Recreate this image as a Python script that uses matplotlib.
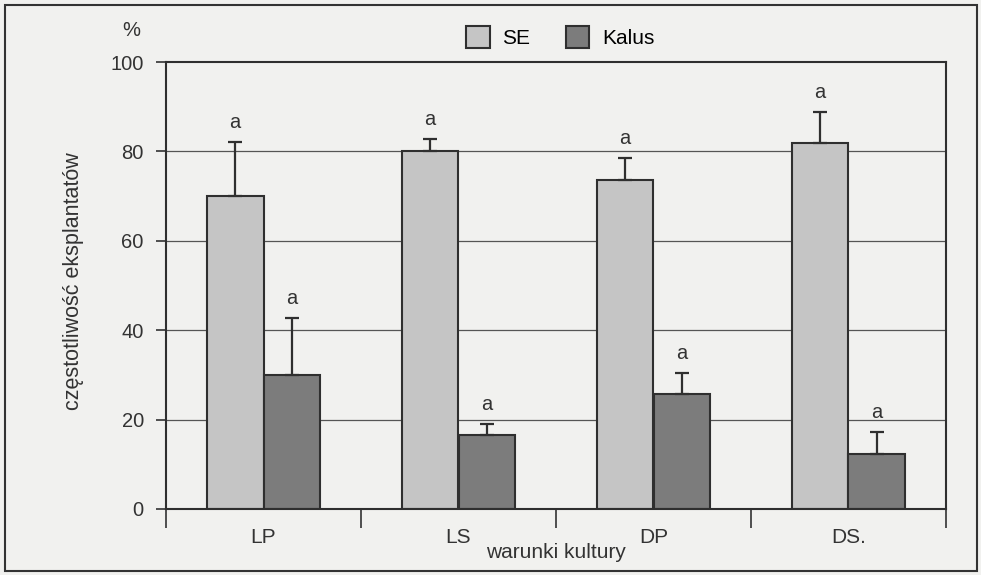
import matplotlib.pyplot as plt
import matplotlib.patches as patches
import numpy as np

# donnees
kategorie = ['LP', 'LS', 'DP', 'DS.']
se = [70.0, 80.1, 73.6, 81.9]
se_blad = [12.1, 2.7, 4.9, 6.9]
kalus = [30.0, 16.6, 25.7, 12.3]
kalus_blad = [12.7, 2.4, 4.7, 4.9]
litery_se = ['a', 'a', 'a', 'a']
litery_kalus = ['a', 'a', 'a', 'a']

plt.rcParams['font.family'] = ['Liberation Sans', 'DejaVu Sans']
tlo = '#f1f1ef'
tekst = '#333333'

fig = plt.figure(figsize=(9.81, 5.75), dpi=100, facecolor=tlo)
ax = fig.add_axes([166 / 981, 1 - 509 / 575, (946 - 166) / 981, (509 - 62) / 575])
ax.set_facecolor(tlo)

x = np.arange(len(kategorie))
szer = 0.29

# siatka pozioma
for v in [20, 40, 60, 80]:
    ax.axhline(v, color='#555555', lw=0.9, zorder=0)

ax.bar(x - szer / 2, se, szer, color='#c5c5c5', edgecolor='#2f2f2f', lw=1.5, label='SE', zorder=2)
ax.bar(x + szer / 2, kalus, szer, color='#7c7c7c', edgecolor='#2f2f2f', lw=1.5, label='Kalus', zorder=2)

ax.errorbar(x - szer / 2, se, yerr=[np.zeros(4), se_blad], fmt='none', ecolor='#2f2f2f',
            elinewidth=1.6, capsize=5, capthick=1.6, zorder=3)
ax.errorbar(x + szer / 2, kalus, yerr=[np.zeros(4), kalus_blad], fmt='none', ecolor='#2f2f2f',
            elinewidth=1.6, capsize=5, capthick=1.6, zorder=3)

for i in range(len(kategorie)):
    ax.annotate(litery_se[i], (x[i] - szer / 2, se[i] + se_blad[i]), xytext=(0, 7),
                textcoords='offset points', ha='center', va='bottom', fontsize=14.5, color=tekst)
    ax.annotate(litery_kalus[i], (x[i] + szer / 2, kalus[i] + kalus_blad[i]), xytext=(0, 7),
                textcoords='offset points', ha='center', va='bottom', fontsize=14.5, color=tekst)

ax.set_xlim(-0.5, 3.5)
ax.set_ylim(0, 100)
ax.set_yticks([0, 20, 40, 60, 80, 100])
ax.tick_params(axis='y', labelsize=14.5, colors=tekst, length=7, width=1.2, pad=9)
# etykiety kategorii bez kresek, kreski na granicach
ax.set_xticks(x)
ax.set_xticklabels(kategorie)
ax.tick_params(axis='x', length=0, labelsize=15, colors=tekst, pad=14)
ax.set_xticks(np.arange(-0.5, 4, 1), minor=True)
ax.tick_params(axis='x', which='minor', length=14, width=1.2, color=tekst)

for s in ax.spines.values():
    s.set_color('#2f2f2f')
    s.set_linewidth(1.5)

ax.set_xlabel('warunki kultury', fontsize=15, color=tekst, va='center')
ax.xaxis.set_label_coords(0.5, -(553 - 509) / 447)
ax.set_ylabel('częstotliwość eksplantatów', fontsize=15.5, color=tekst, va='center')
ax.yaxis.set_label_coords(-(166 - 74) / 780, 0.51)
fig.text(131 / 981, 1 - 30 / 575, '%', fontsize=14.5, color=tekst, ha='center', va='center')

ax.legend(loc='center', bbox_to_anchor=(560 / 981, 1 - 37 / 575), bbox_transform=fig.transFigure,
          ncol=2, frameon=False, fontsize=15, handlelength=1.15, handleheight=1.3,
          columnspacing=1.7, handletextpad=0.6)

fig.patches.append(patches.Rectangle((5 / 981, 4 / 575), 972 / 981, 566 / 575, transform=fig.transFigure,
                                     fill=False, edgecolor=tekst, lw=1.5))

fig.savefig('out.png', dpi=100, facecolor=tlo)
